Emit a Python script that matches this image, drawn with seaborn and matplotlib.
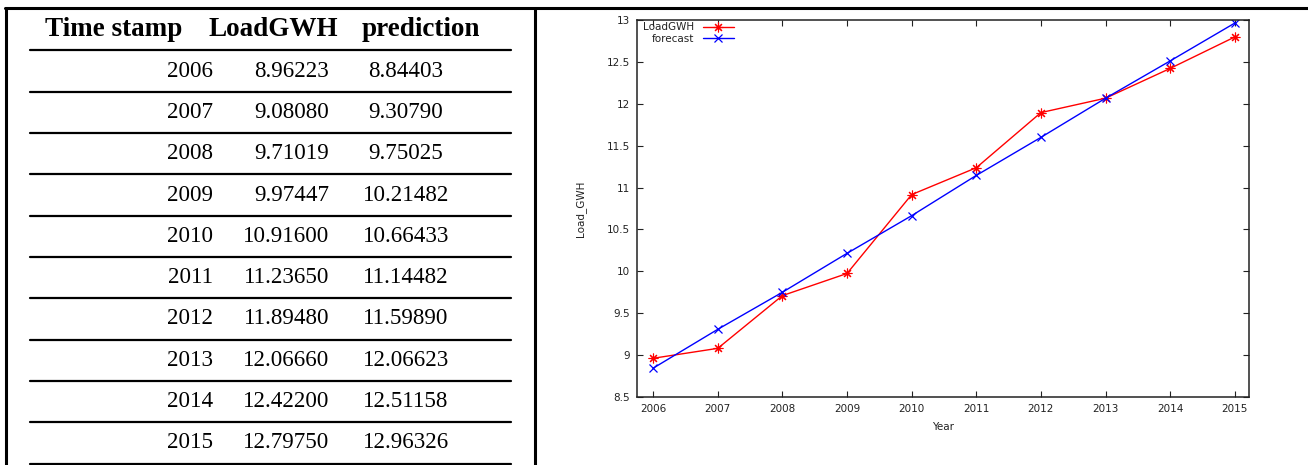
"""Load forecast figure: table of yearly LoadGWH vs prediction plus a gnuplot-style line chart."""
import numpy as np
import pandas as pd

import matplotlib
matplotlib.use("Agg")
import matplotlib.pyplot as plt
from matplotlib.lines import Line2D
from matplotlib.ticker import FuncFormatter, MultipleLocator
import seaborn as sns

# ---------------------------------------------------------------------------
# data
# ---------------------------------------------------------------------------
years = [2006, 2007, 2008, 2009, 2010, 2011, 2012, 2013, 2014, 2015]
load_gwh = [8.96223, 9.08080, 9.71019, 9.97447, 10.91600,
            11.23650, 11.89480, 12.06660, 12.42200, 12.79750]
prediction = [8.84403, 9.30790, 9.75025, 10.21482, 10.66433,
              11.14482, 11.59890, 12.06623, 12.51158, 12.96326]
table_headers = ["Time stamp", "LoadGWH", "prediction"]

df = pd.DataFrame({"Year": years, "LoadGWH": load_gwh, "forecast": prediction})

sns.set_style("ticks")
plt.rcParams["font.family"] = ["DejaVu Sans"]
plt.rcParams["text.color"] = "black"

W, H = 1308, 465
fig = plt.figure(figsize=(W / 100, H / 100), dpi=100)


def fx(px):
    return px / W


def fy(py):
    return 1 - py / H


# ---------------------------------------------------------------------------
# outer frame (page table borders)
# ---------------------------------------------------------------------------
for xs, ys in [((5, W), (8, 8)), ((6, 6), (8, H)), ((535, 535), (8, H))]:
    fig.add_artist(Line2D([fx(x) for x in xs], [fy(y) for y in ys],
                          color="black", lw=2.2, transform=fig.transFigure))

# ---------------------------------------------------------------------------
# left table
# ---------------------------------------------------------------------------
serif = ["Liberation Serif", "DejaVu Serif"]
header_y = 30
header_x = [114, 273, 421]
for hx, txt in zip(header_x, table_headers):
    fig.text(fx(hx), fy(header_y), txt, ha="center", va="center",
             family=serif, fontsize=19.5, fontweight="bold", color="black")

row_h = 41.3
rule_y0 = 50.5
for i in range(len(years) + 1):
    y = rule_y0 + i * row_h
    fig.add_artist(Line2D([fx(30), fx(511)], [fy(y), fy(y)], color="black",
                          lw=1.6, transform=fig.transFigure))

for i, (yr, lv, pv) in enumerate(zip(years, load_gwh, prediction)):
    cy = rule_y0 + (i + 0.5) * row_h
    fig.text(fx(213), fy(cy), f"{yr}", ha="right", va="center",
             family=serif, fontsize=16.6, color="black")
    fig.text(fx(329), fy(cy), f"{lv:.5f}", ha="right", va="center",
             family=serif, fontsize=16.6, color="black")
    fig.text(fx(406), fy(cy), f"{pv:.5f}", ha="center", va="center",
             family=serif, fontsize=16.6, color="black")

# ---------------------------------------------------------------------------
# right chart (gnuplot look)
# ---------------------------------------------------------------------------
ax = fig.add_axes([fx(637), fy(397), fx(1249 - 637), (397 - 20) / H])

sns.lineplot(data=df, x="Year", y="LoadGWH", ax=ax, color="#ff0000",
             lw=1.0, marker=(8, 2, 0), markersize=7,
             markeredgecolor="#ff0000", markeredgewidth=0.8, label="LoadGWH")
sns.lineplot(data=df, x="Year", y="forecast", ax=ax, color="#0000ff",
             lw=1.0, marker="x", markersize=6,
             markeredgecolor="#0000ff", markeredgewidth=0.9, label="forecast")

ax.set_xlim(2005.75, 2015.22)
ax.set_ylim(8.5, 13)
ax.xaxis.set_major_locator(MultipleLocator(1))
ax.yaxis.set_major_locator(MultipleLocator(0.5))
ax.xaxis.set_major_formatter(FuncFormatter(lambda v, _: f"{int(round(v))}"))
ax.yaxis.set_major_formatter(FuncFormatter(lambda v, _: f"{v:g}"))
ax.tick_params(direction="in", length=4, width=0.8, top=True, right=True,
               labelsize=7.5, colors="#222222", pad=5)
for s in ax.spines.values():
    s.set_linewidth(1.1)
    s.set_color("#222222")

ax.set_xlabel("Year", fontsize=7.5, color="#222222", labelpad=6)
ax.set_ylabel("Load_GWH", fontsize=7.5, color="#222222", labelpad=15)

leg = ax.legend(loc="upper left", bbox_to_anchor=(0.0, 1.01), frameon=False,
                markerfirst=False, fontsize=7.5, handlelength=3.0,
                handletextpad=0.8, labelspacing=0.15, borderaxespad=0.2)
for t in leg.get_texts():
    t.set_color("#222222")

fig.savefig("out.png", dpi=100)
plt.close(fig)
